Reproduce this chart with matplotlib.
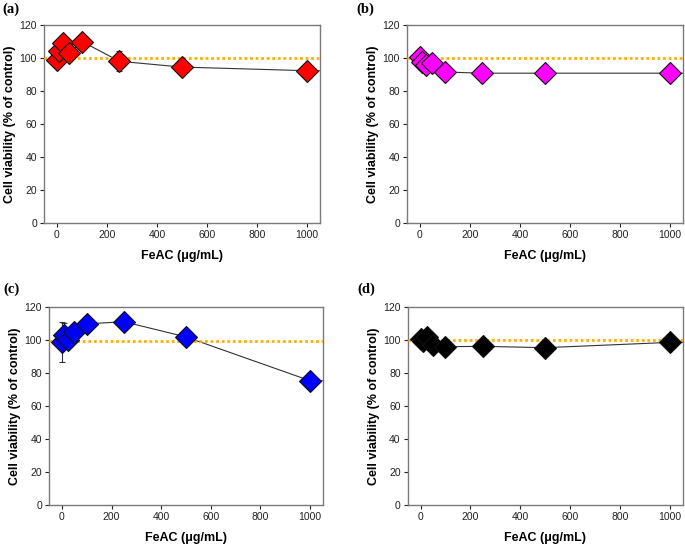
import matplotlib.pyplot as plt

plt.rcParams['font.family'] = ['Liberation Sans', 'DejaVu Sans']

# concentrations (ug/mL)
conc = [0, 10, 25, 50, 100, 250, 500, 1000]

via_a = [98.5, 104, 109, 103, 110, 98, 94.5, 92.3]
err_a = [2, 2, 2, 2, 1.5, 6, 5, 1.5]
via_b = [100.5, 97.8, 95.7, 97.2, 91.5, 90.8, 90.8, 90.8]
err_b = [1.5, 1.5, 1.5, 1.5, 1.5, 4, 2, 1.5]
via_c = [98.8, 103, 100, 104.8, 109.6, 110.9, 101.7, 75.2]
err_c = [12, 7, 4, 2, 2, 2, 2, 2]
via_d = [100.2, 99.4, 101.8, 96.8, 95.8, 96, 95.2, 98.4]
err_d = [2, 2, 2, 2, 1.5, 1.5, 1.5, 1.5]

control_lines = [100, 100, 99, 100]
colors = ['#ff0000', '#ff00ff', '#0000ff', '#000000']
labels = ['(a)', '(b)', '(c)', '(d)']

# axes rectangles in figure fraction
positions = [
    [0.0642, 0.5916, 0.403, 0.3626],
    [0.594, 0.5916, 0.403, 0.3626],
    [0.0715, 0.0751, 0.400, 0.3632],
    [0.595, 0.0751, 0.402, 0.3632],
]
label_pos = [(0.003, 0.995), (0.52, 0.995), (0.005, 0.483), (0.521, 0.483)]

fig = plt.figure(figsize=(6.85, 5.46), dpi=100)

series = [(via_a, err_a), (via_b, err_b), (via_c, err_c), (via_d, err_d)]
for i, (via, err) in enumerate(series):
    ax = fig.add_axes(positions[i])
    xmax = 1052
    # connecting line, carried flat to the right edge
    ax.plot(conc + [xmax], via + [via[-1]], color='#333333', lw=0.8, zorder=2)
    ax.axhline(control_lines[i], color='#ffb000', lw=2, ls=(0, (1, 1)), zorder=3)
    ax.errorbar(conc, via, yerr=err, fmt='none', ecolor='#333333',
                elinewidth=0.8, capsize=2.5, capthick=0.8, zorder=4)
    ax.plot(conc, via, 'D', ms=11.5, mfc=colors[i], mec='#111111', mew=0.8,
            ls='none', zorder=5)

    ax.set_xlim(-52, xmax)
    ax.set_ylim(0, 120)
    ax.set_xticks(range(0, 1001, 200))
    ax.set_yticks(range(0, 121, 20))
    ax.tick_params(direction='out', length=3, width=0.8, labelsize=7.5,
                   colors='#222222', pad=2)
    for s in ax.spines.values():
        s.set_color('#7a7a7a')
        s.set_linewidth(1)
    ax.set_xlabel('FeAC (μg/mL)', fontsize=9, fontweight='bold', labelpad=7)
    ax.set_ylabel('Cell viability (% of control)', fontsize=9,
                  fontweight='bold', labelpad=2.5)

    fig.text(label_pos[i][0], label_pos[i][1], labels[i], ha='left', va='top',
             fontsize=10.5, fontweight='bold', family='Liberation Serif')

fig.savefig('out.png', dpi=100)
